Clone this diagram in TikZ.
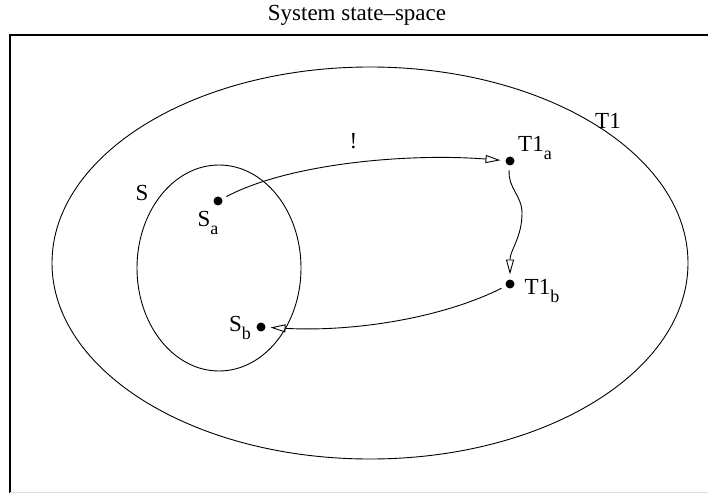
\documentclass[tikz,border=0pt]{standalone}
\usepackage{fontspec}
\setmainfont{Liberation Serif}
\usetikzlibrary{arrows.meta,positioning,calc,shapes.geometric}
\newcommand{\lsub}[1]{\raisebox{-8pt}{\fontsize{18}{18}\selectfont #1}}
\tikzset{
  frame/.style={line width=1.4pt},
  region/.style={ellipse,draw,line width=0.9pt,inner sep=0pt},
  state/.style={circle,fill,inner sep=0pt,minimum size=9pt,outer sep=5pt},
  lbl/.style={font=\fontsize{23}{23}\selectfont,inner sep=0pt},
  flow/.style={-{Triangle[open,length=15pt,width=8pt]},line width=0.9pt}
}
\begin{document}
\begin{tikzpicture}[x=1pt,y=1pt]
  \useasboundingbox (0,0) rectangle (708,493);
  \node[lbl] (title) at (357,478) {System state--space};
  \draw[frame] (10,0) |- (708,458);
  \draw[black!12] (10,1) -- (708,1);

  % regions
  \node[region,minimum width=636pt,minimum height=392pt] (T1) at (370,230) {};
  \node[region,minimum width=164pt,minimum height=206pt] (S) at (219,225) {};
  \node[lbl] (lT1) at (608,372) {T1};
  \node[lbl] (lS) at (142,300) {S};

  % states
  \node[state] (sa) at (218,292) {};
  \node[state] (ta) at (510,332) {};
  \node[state] (tb) at (510,209) {};
  \node[state] (sb) at (261,166) {};
  \node[lbl] (lsa) at (208,270) {S\lsub{a}};
  \node[lbl] (lta) at (535,345) {T1\lsub{a}};
  \node[lbl] (ltb) at (542,202) {T1\lsub{b}};
  \node[lbl] (lsb) at (240,165) {S\lsub{b}};

  % transitions
  \draw[flow] (sa) .. controls +(72,38) and +(-100,8) .. (ta)
    node[lbl,pos=0.5,above=14pt] (bang) {!};
  \draw[flow] (ta) to[out=-95,in=90] (522,280) to[out=-90,in=90] (tb);
  \draw[flow] (tb) .. controls +(-70,-35) and +(90,-5) .. (sb);
\end{tikzpicture}
\end{document}
